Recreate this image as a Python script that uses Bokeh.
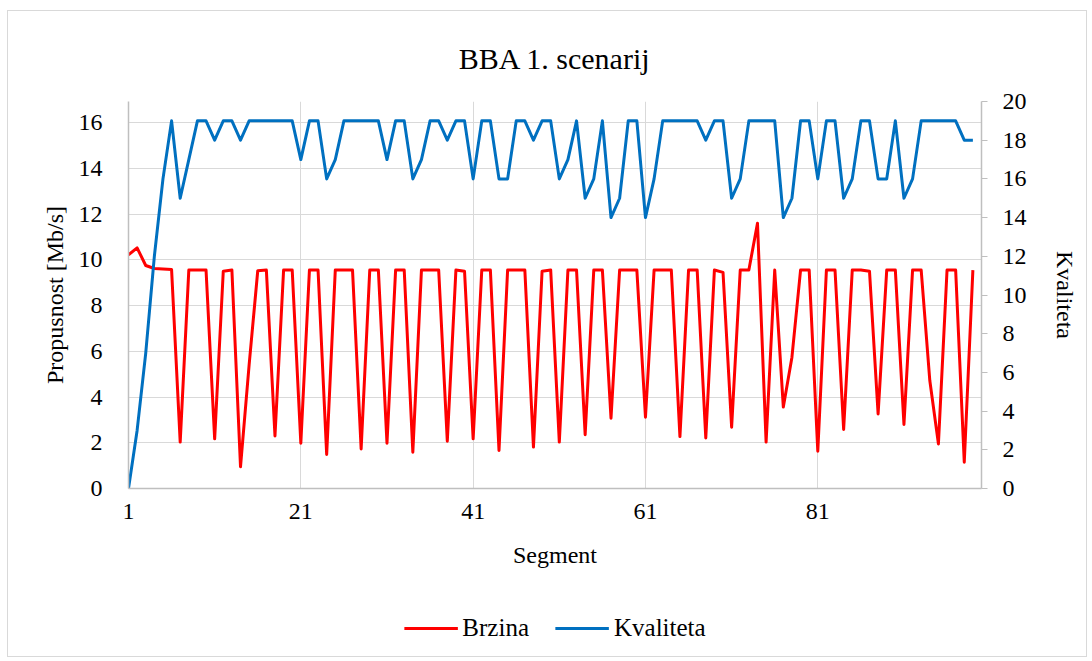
from bokeh.plotting import figure
from bokeh.layouts import column
from bokeh.models import Range1d, LinearAxis, FixedTicker, Legend, LegendItem
from bokeh.embed import file_html
from bokeh.resources import INLINE

segments = list(range(1, 100))
brzina = [10.22, 10.52, 9.75, 9.62, 9.6, 9.57, 2.03, 9.55, 9.55, 9.55,
          2.17, 9.5, 9.55, 0.95, 5.4, 9.52, 9.55, 2.3, 9.55, 9.55,
          1.98, 9.55, 9.55, 1.49, 9.55, 9.55, 9.55, 1.73, 9.55, 9.55,
          1.98, 9.55, 9.55, 1.59, 9.55, 9.55, 9.55, 2.07, 9.55, 9.5,
          2.17, 9.55, 9.55, 1.66, 9.55, 9.55, 9.55, 1.81, 9.5, 9.55,
          2.03, 9.55, 9.55, 2.35, 9.55, 9.55, 3.07, 9.55, 9.55, 9.55,
          3.12, 9.55, 9.55, 9.55, 2.27, 9.55, 9.55, 2.21, 9.55, 9.45,
          2.68, 9.55, 9.55, 11.6, 2.03, 9.55, 3.56, 5.74, 9.55, 9.55,
          1.63, 9.55, 9.55, 2.58, 9.55, 9.55, 9.5, 3.26, 9.55, 9.55,
          2.8, 9.55, 9.55, 4.72, 1.95, 9.55, 9.55, 1.15, 9.55]
kvaliteta = [0, 3, 7, 12, 16, 19, 15, 17, 19, 19,
             18, 19, 19, 18, 19, 19, 19, 19, 19, 19,
             17, 19, 19, 16, 17, 19, 19, 19, 19, 19,
             17, 19, 19, 16, 17, 19, 19, 18, 19, 19,
             16, 19, 19, 16, 16, 19, 19, 18, 19, 19,
             16, 17, 19, 15, 16, 19, 14, 15, 19, 19,
             14, 16, 19, 19, 19, 19, 19, 18, 19, 19,
             15, 16, 19, 19, 19, 19, 14, 15, 19, 19,
             16, 19, 19, 15, 16, 19, 19, 16, 16, 19,
             15, 16, 19, 19, 19, 19, 19, 18, 18]
x_ticks = [1, 21, 41, 61, 81]
left_ticks = [0, 2, 4, 6, 8, 10, 12, 14, 16]
right_ticks = [0, 2, 4, 6, 8, 10, 12, 14, 16, 18, 20]
series_names = ["Brzina", "Kvaliteta"]
series_colors = ["#FF0000", "#0070C0"]

FONT = "Liberation Serif"
GRID = "#D9D9D9"
AXIS = "#BFBFBF"
TXT = "black"

p = figure(width=1078, height=589, output_backend="svg", toolbar_location=None,
           x_range=Range1d(1, 100), y_range=Range1d(0, 16.92),
           min_border_left=120, min_border_right=105, min_border_top=90,
           min_border_bottom=112, title="BBA 1. scenarij")
p.extra_y_ranges = {"q": Range1d(0, 20)}
p.outline_line_color = None
p.background_fill_color = "white"
p.border_fill_color = "white"

p.title.text_font = FONT
p.title.text_font_size = "30px"
p.title.text_font_style = "normal"
p.title.text_color = TXT
p.title.align = "center"
p.title.standoff = 53

# bottom axis
xa = p.xaxis[0]
xa.ticker = FixedTicker(ticks=x_ticks)
xa.axis_label = "Segment"
xa.axis_label_text_font = FONT
xa.axis_label_text_font_size = "24px"
xa.axis_label_text_font_style = "normal"
xa.axis_label_text_color = TXT
xa.axis_label_standoff = 20
xa.major_label_text_font = FONT
xa.major_label_text_font_size = "24px"
xa.major_label_text_color = TXT
xa.major_label_standoff = 9
xa.major_tick_line_color = None
xa.minor_tick_line_color = None
xa.axis_line_color = AXIS
xa.axis_line_width = 1.5

# left axis
ya = p.yaxis[0]
ya.ticker = FixedTicker(ticks=left_ticks)
ya.axis_label = "Propusnost [Mb/s]"
ya.axis_label_text_font = FONT
ya.axis_label_text_font_size = "24px"
ya.axis_label_text_font_style = "normal"
ya.axis_label_text_color = TXT
ya.axis_label_standoff = 8
ya.major_label_text_font = FONT
ya.major_label_text_font_size = "24px"
ya.major_label_text_color = TXT
ya.major_label_standoff = 20
ya.major_tick_line_color = None
ya.minor_tick_line_color = None
ya.axis_line_color = AXIS
ya.axis_line_width = 1.5

# right axis
ra = LinearAxis(y_range_name="q", ticker=FixedTicker(ticks=right_ticks))
ra.axis_label = "Kvaliteta"
ra.axis_label_text_font = FONT
ra.axis_label_text_font_size = "24px"
ra.axis_label_text_font_style = "normal"
ra.axis_label_text_color = TXT
ra.axis_label_standoff = 22
ra.major_label_text_font = FONT
ra.major_label_text_font_size = "24px"
ra.major_label_text_color = TXT
ra.major_label_standoff = 15
ra.major_tick_in = 0
ra.major_tick_out = 6
ra.major_tick_line_color = AXIS
ra.minor_tick_line_color = None
ra.axis_line_color = AXIS
ra.axis_line_width = 1.5
p.add_layout(ra, "right")

p.xgrid.ticker = FixedTicker(ticks=x_ticks)
p.xgrid.grid_line_color = GRID
p.ygrid.grid_line_color = GRID

p.line(segments, brzina, line_color=series_colors[0], line_width=3, line_join="round")
p.line(segments, kvaliteta, line_color=series_colors[1], line_width=3, line_join="round",
       y_range_name="q")

# legend strip below the chart (proxy lines fall outside its empty view)
lg = figure(width=1078, height=56, output_backend="svg", toolbar_location=None,
            x_range=Range1d(-2, -1), y_range=Range1d(-2, -1),
            min_border=0, outline_line_color=None)
lg.axis.visible = False
lg.grid.visible = False
lg.background_fill_color = "white"
lg.border_fill_color = "white"
items = []
for name, col, vals in zip(series_names, series_colors, [brzina, kvaliteta]):
    rr = lg.line(segments, vals, line_color=col, line_width=3)
    items.append(LegendItem(label=name, renderers=[rr]))
legend = Legend(items=items, orientation="horizontal", location="center",
                glyph_width=54, glyph_height=20, label_standoff=5, spacing=26,
                label_text_font=FONT, label_text_font_size="25px",
                label_text_color=TXT, padding=8,
                border_line_color=None, background_fill_alpha=0)
lg.add_layout(legend, "center")

layout = column(p, lg, spacing=0)
layout.styles = {"margin-left": "7px", "margin-top": "10px", "border": "1px solid #D9D9D9"}

open("out.html", "w").write(file_html(layout, INLINE))
